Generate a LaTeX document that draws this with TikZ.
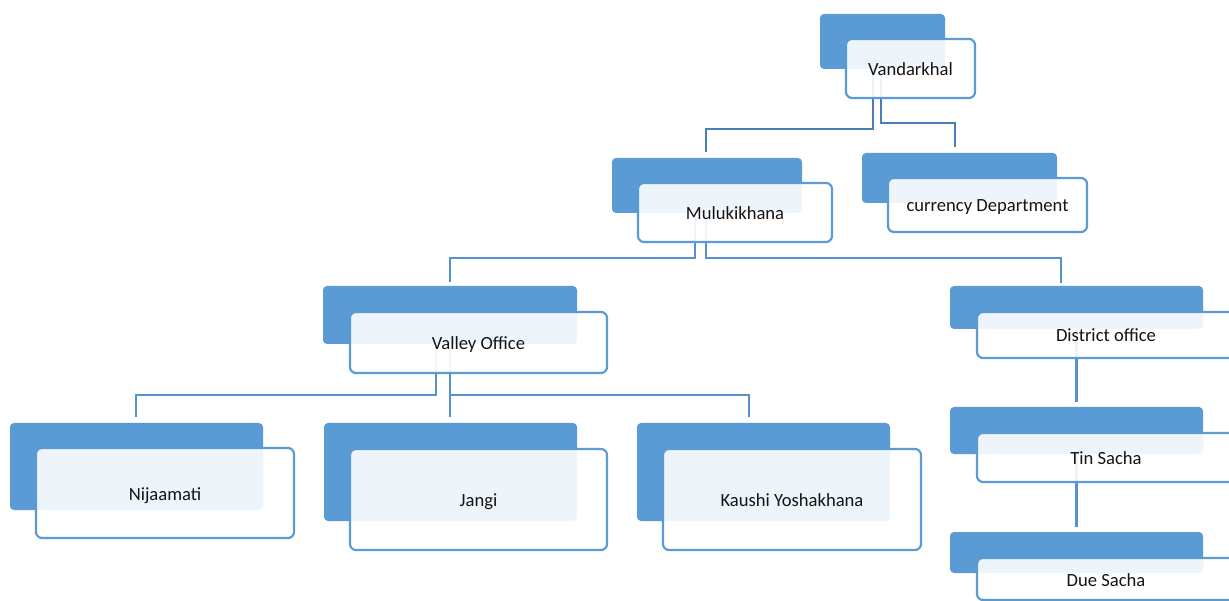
\documentclass[tikz,border=0pt]{standalone}
\usepackage{fontspec}
\setmainfont{Carlito}
\usetikzlibrary{calc,backgrounds}
\definecolor{boxblue}{HTML}{5B9BD5}
\definecolor{conntop}{HTML}{4A7EBA}
\definecolor{connlow}{HTML}{5690CD}
\definecolor{txt}{HTML}{141414}
\tikzset{
  bluebox/.style={fill=boxblue, draw=none, rounded corners=4pt, inner sep=0pt},
  whitebox/.style={fill=white, fill opacity=0.9, text opacity=1, draw=boxblue, draw opacity=1,
    line width=2.2pt, rounded corners=6pt, inner sep=0pt, text=txt,
    font=\fontsize{18.6}{20}\selectfont, text height=14pt, text depth=0pt},
  conn/.style={draw=connlow, line width=2.5pt},
  conntopline/.style={draw=conntop, line width=2.5pt},
}
\begin{document}
\begin{tikzpicture}[x=1pt, y=-1pt]
\clip (0,0) rectangle (1229,601);
% Vandarkhal
\node[bluebox, minimum width=125pt, minimum height=55pt] (vb) at (882.5,41.5) {};
\node[whitebox, minimum width=129pt, minimum height=59pt] (vw) at (910.5,68.5) {Vandarkhal};
% Mulukikhana
\node[bluebox, minimum width=190pt, minimum height=55pt] (mb) at (707,185.5) {};
\node[whitebox, minimum width=194pt, minimum height=59pt] (mw) at (735,212.5) {Mulukikhana};
% currency Department
\node[bluebox, minimum width=195pt, minimum height=50pt] (cb) at (959.5,178) {};
\node[whitebox, minimum width=199pt, minimum height=54pt] (cw) at (987.5,205) {currency Department};
% Valley Office
\node[bluebox, minimum width=254pt, minimum height=58pt] (vlb) at (450,315) {};
\node[whitebox, minimum width=257pt, minimum height=61pt] (vlw) at (478.5,342.5) {Valley Office};
% District office
\node[bluebox, minimum width=253pt, minimum height=43pt] (db) at (1076.5,307.5) {};
\node[whitebox, minimum width=258pt, minimum height=46pt] (dw) at (1106,335) {District office};
% Tin Sacha
\node[bluebox, minimum width=253pt, minimum height=47pt] (tb) at (1076.5,430.5) {};
\node[whitebox, minimum width=258pt, minimum height=49pt] (tw) at (1106,457.5) {Tin Sacha};
% Due Sacha
\node[bluebox, minimum width=253pt, minimum height=41pt] (sb) at (1076.5,552.5) {};
\node[whitebox, minimum width=258pt, minimum height=42pt] (sw) at (1106,579) {Due Sacha};
% Nijaamati
\node[bluebox, minimum width=253pt, minimum height=87pt] (nb) at (136.5,466.5) {};
\node[whitebox, minimum width=258pt, minimum height=90pt] (nw) at (165,493) {Nijaamati};
% Jangi
\node[bluebox, minimum width=253pt, minimum height=98pt] (jb) at (450.5,472) {};
\node[whitebox, minimum width=257pt, minimum height=101pt] (jw) at (478.5,499.5) {Jangi};
% Kaushi Yoshakhana
\node[bluebox, minimum width=253pt, minimum height=98pt] (kb) at (763.5,472) {};
\node[whitebox, minimum width=258pt, minimum height=101pt] (kw) at (792,499.5) {Kaushi Yoshakhana};

\begin{pgfonlayer}{background}
\fill[white] (0,0) rectangle (1229,601);
\draw[conntopline] ($(vb.south)+(-9.5,0)$) |- ($(mb.north)+(-1,-29)$) -- ($(mb.north)+(-1,-6)$);
\draw[conntopline] ($(vb.south)+(-1.5,0)$) |- ($(cb.north)+(-4.5,-30)$) -- ($(cb.north)+(-4.5,-6)$);
\draw[conn] ($(mb.south)+(-12,0)$) |- ($(vlb.north)+(0,-28)$) -- ($(vlb.north)+(0,-4)$);
\draw[conn] ($(mb.south)+(-1,0)$) |- ($(db.north)+(-15.5,-28)$) -- ($(db.north)+(-15.5,-3)$);
\draw[conn] ($(vlb.south)+(-14,0)$) |- ($(nb.north)+(-0.5,-28)$) -- ($(nb.north)+(-0.5,-6)$);
\draw[conn] (vlb.south) -- ($(jb.north)+(-0.5,-6)$);
\draw[conn] ($(jb.north)+(-0.5,-28)$) -| ($(kb.north)+(-14.5,-6)$);
\draw[conn] (db.south) -- ($(tb.north)+(0,-5)$);
\draw[conn] (tb.south) -- ($(sb.north)+(0,-5)$);
\end{pgfonlayer}
\end{tikzpicture}
\end{document}
